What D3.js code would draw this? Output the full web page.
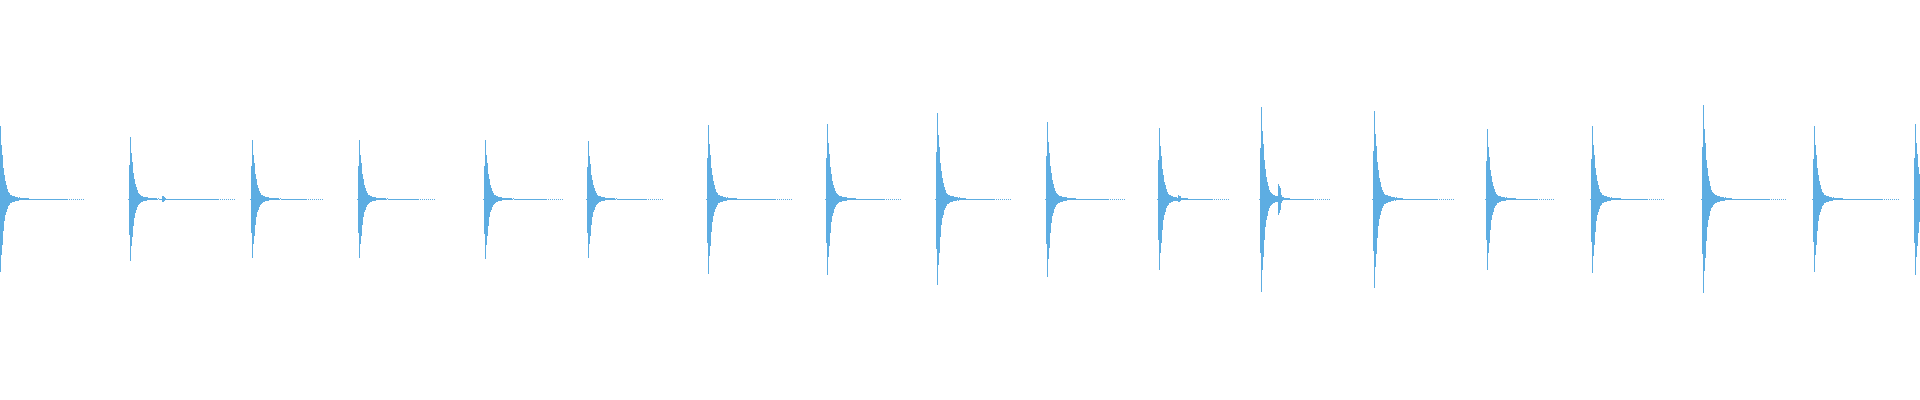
<!DOCTYPE html>
<html><head><meta charset="utf-8">
<script src="https://cdn.jsdelivr.net/npm/d3@7"></script>
<style>html,body{margin:0;padding:0;background:#fff;overflow:hidden}</style>
</head><body><svg id="chart" width="1920" height="400"></svg>
<script>
// Recording length (seconds) shown across the full width
const duration = 16;
// Time of each beat's peak (s)
const beatTimes = [0.000, 1.083, 2.100, 2.992, 4.042, 4.900, 5.900, 6.892, 7.808, 8.725, 9.658, 10.508, 11.450, 12.392, 13.267, 14.192, 15.117, 15.958];
// Peak amplitude above / below zero for each beat
const beatPeakTop    = [0.367, 0.310, 0.297, 0.297, 0.297, 0.290, 0.370, 0.377, 0.430, 0.387, 0.357, 0.460, 0.440, 0.350, 0.367, 0.470, 0.367, 0.377];
const beatPeakBottom = [0.367, 0.310, 0.297, 0.297, 0.302, 0.297, 0.375, 0.382, 0.432, 0.392, 0.357, 0.467, 0.447, 0.357, 0.372, 0.472, 0.367, 0.382];
// Time where each beat's residual tail fades to silence (s)
const tailEnds = [0.692, 1.950, 2.683, 3.617, 4.683, 5.517, 6.592, 7.500, 8.417, 9.367, 10.233, 11.075, 12.108, 12.942, 13.858, 14.875, 15.817, 16.000];
// Decay envelope relative to peak, one value per column, starting two columns before the peak
const envelopeTop    = [0, 0.55, 1.0, 0.74, 0.6, 0.42, 0.33, 0.24, 0.19, 0.14, 0.1, 0.075, 0.06, 0.05, 0.045, 0.04, 0.035, 0.03, 0.03, 0.025, 0.02, 0.022, 0.018, 0.015, 0.018, 0.012, 0.014, 0.01, 0.012, 0.008, 0.01];
const envelopeBottom = [0, 0.58, 1.0, 0.76, 0.62, 0.44, 0.3, 0.22, 0.18, 0.13, 0.1, 0.08, 0.06, 0.055, 0.045, 0.04, 0.035, 0.032, 0.028, 0.024, 0.022, 0.02, 0.016, 0.018, 0.014, 0.012, 0.01, 0.012, 0.01, 0.008, 0.008];
// Secondary echoes
const echoTimes  = [1.350, 9.817, 10.650];
const echoTop    = [0.017, 0.020, 0.077];
const echoBottom = [0.017, 0.015, 0.082];
const echoShape  = [1.0, 0.85, 0.7, 0.25, 0.12];

const W = 1920, H = 400;
const svg = d3.select('#chart');
const x = d3.scaleLinear().domain([0, duration]).range([0, W]);
const y = d3.scaleLinear().domain([-1, 1]).range([H - 1, -1]);
const step = duration / W;
const color = '#5dade2';

const cols = [];
beatTimes.forEach((bt, i) => {
  const n = envelopeTop.length;
  for (let k = 0; k < n; k++) {
    cols.push({t: bt + (k - 2) * step, hi: envelopeTop[k] * beatPeakTop[i], lo: -envelopeBottom[k] * beatPeakBottom[i]});
  }
  const tailStart = bt + (n - 2) * step;
  const tailCols = Math.round((tailEnds[i] - tailStart) / step);
  for (let c = 0; c <= tailCols; c++) {
    const fromEnd = tailCols - c;
    if (fromEnd < 16 && fromEnd % 2 === 1 && i < beatTimes.length - 1) continue;
    cols.push({t: tailStart + c * step, hi: 0, lo: 0});
  }
});
echoTimes.forEach((et, i) => {
  echoShape.forEach((s, k) => {
    cols.push({t: et + k * step, hi: s * echoTop[i], lo: -s * echoBottom[i]});
  });
});

svg.append('g')
  .attr('shape-rendering', 'crispEdges')
  .selectAll('rect')
  .data(cols.filter(d => x(d.t) >= -0.5 && x(d.t) < W))
  .join('rect')
  .attr('x', d => Math.round(x(d.t)))
  .attr('width', 1)
  .attr('y', d => Math.round(y(d.hi)))
  .attr('height', d => Math.max(1, Math.round(y(d.lo)) - Math.round(y(d.hi))))
  .attr('fill', color);
</script>
</body></html>
